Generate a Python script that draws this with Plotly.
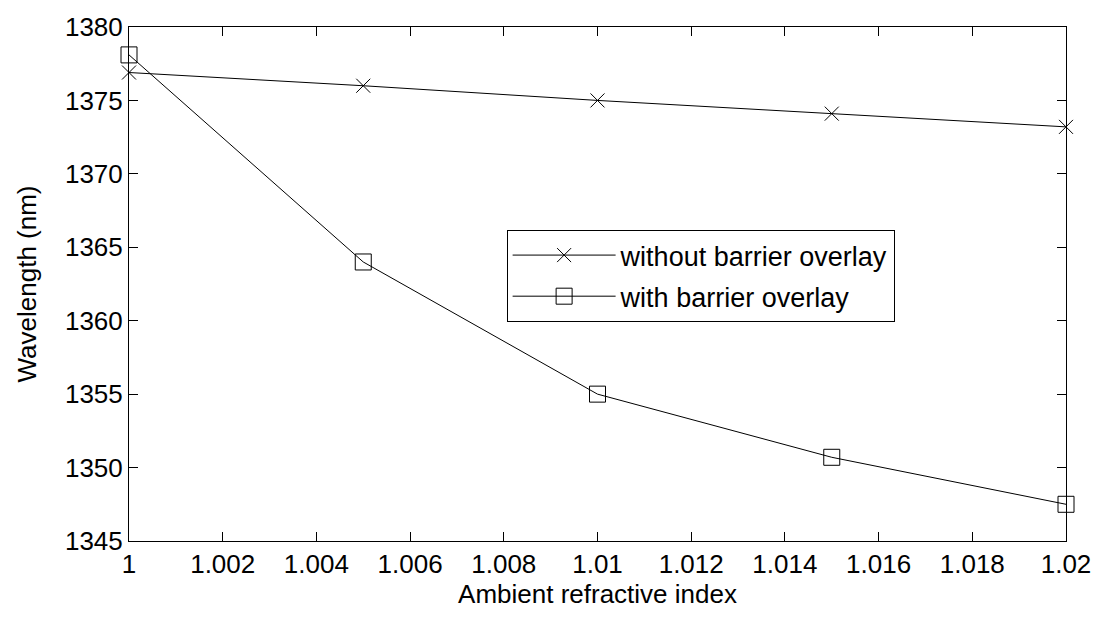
import plotly.graph_objects as go

x_vals = [1.0, 1.005, 1.01, 1.015, 1.02]
without_barrier = [1376.9, 1376.0, 1375.0, 1374.1, 1373.2]
with_barrier = [1378.1, 1364.0, 1355.0, 1350.7, 1347.5]
x_tickvals = [1.0, 1.002, 1.004, 1.006, 1.008, 1.01, 1.012, 1.014, 1.016, 1.018, 1.02]
x_ticktext = ["1", "1.002", "1.004", "1.006", "1.008", "1.01", "1.012", "1.014", "1.016", "1.018", "1.02"]
y_tickvals = [1345, 1350, 1355, 1360, 1365, 1370, 1375, 1380]

FONT = "Liberation Sans, Arial, sans-serif"
FS = 26

fig = go.Figure()
fig.add_trace(go.Scatter(
    x=x_vals, y=without_barrier, mode="lines+markers", name="without barrier overlay",
    legendgroup="a",
    line=dict(color="black", width=1),
    marker=dict(symbol="x-thin-open", size=14, color="black", line=dict(width=1, color="black")),
    cliponaxis=False,
))
fig.add_trace(go.Scatter(
    x=x_vals, y=with_barrier, mode="lines+markers", name="with barrier overlay",
    legendgroup="b",
    line=dict(color="black", width=1),
    marker=dict(symbol="square-open", size=16, color="black", line=dict(width=1, color="black")),
    cliponaxis=False,
))

fig.update_layout(
    width=1101, height=617,
    margin=dict(l=120.5, r=43.3, t=18.7, b=84, autoexpand=False),
    paper_bgcolor="white", plot_bgcolor="white",
    font=dict(family=FONT, size=FS, color="black"),
    showlegend=True,
    legend=dict(
        x=0.403, y=0.605, xanchor="left", yanchor="top",
        bordercolor="black", borderwidth=1, bgcolor="white",
        font=dict(family=FONT, size=27, color="black"),
        tracegroupgap=3, itemwidth=103,
    ),
)
fig.update_xaxes(
    range=[1.0, 1.02], tickvals=x_tickvals, ticktext=x_ticktext,
    showgrid=False, zeroline=False, showline=True, linecolor="black", linewidth=1,
    mirror="ticks", ticks="inside", ticklen=9, tickcolor="black", tickwidth=1,
    automargin=False,
    title=dict(text="Ambient refractive index", font=dict(family=FONT, size=FS), standoff=6),
    tickfont=dict(family=FONT, size=FS),
)
fig.update_yaxes(
    range=[1345, 1380], tickvals=y_tickvals,
    showgrid=False, zeroline=False, showline=True, linecolor="black", linewidth=1,
    mirror="ticks", ticks="inside", ticklen=9, tickcolor="black", tickwidth=1,
    automargin=False,
    title=dict(text="Wavelength (nm)", font=dict(family=FONT, size=FS), standoff=20),
    tickfont=dict(family=FONT, size=FS),
)

fig.write_html("out.html")
